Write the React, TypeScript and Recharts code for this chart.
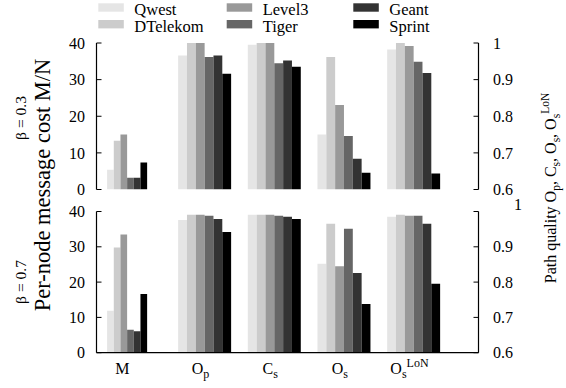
import React from "react";
import { BarChart, Bar, XAxis, YAxis } from "recharts";

const networks = ["Qwest", "DTelekom", "Level3", "Tiger", "Geant", "Sprint"];
const colors = ["#e5e5e5", "#cccccc", "#999999", "#666666", "#333333", "#000000"];

// categories on the x axis (M is on the left axis, the rest on the right axis)
const categories = ["M", "Op", "Cs", "Os", "OsLoN"];
const catPos = [-0.12, 1, 2, 3, 4];
const labelMain = ["M", "O", "C", "O", "O"];
const labelSub = ["", "p", "s", "s", "s"];
const labelSup = ["", "", "", "", "LoN"];

// beta = 0.3
const costB03 = [5.4, 13.3, 15.0, 3.2, 3.2, 7.4];
const qualityB03 = [
  [0.966, 1.0, 1.0, 0.962, 0.966, 0.916],
  [0.995, 1.0, 1.0, 0.945, 0.952, 0.935],
  [0.75, 0.962, 0.831, 0.746, 0.684, 0.646],
  [0.982, 1.0, 0.992, 0.949, 0.918, 0.644],
];

// beta = 0.7
const costB07 = [11.9, 29.8, 33.5, 6.5, 6.1, 16.6];
const qualityB07 = [
  [0.976, 0.991, 0.991, 0.988, 0.979, 0.942],
  [0.991, 0.991, 0.991, 0.988, 0.985, 0.979],
  [0.852, 0.965, 0.845, 0.951, 0.826, 0.738],
  [0.985, 0.991, 0.988, 0.988, 0.965, 0.795],
];

const costTicks = [0, 10, 20, 30, 40];
const qualityTicks = [0.6, 0.7, 0.8, 0.9, 1];
const xDomain = [-0.557, 4.926];

const FONT = "'Liberation Serif', 'Times New Roman', Times, serif";

function buildRows(cost: number[], quality: number[][]) {
  return categories.map((c, i) => {
    const row: any = { x: catPos[i], name: c };
    networks.forEach((n, j) => {
      row["m_" + n] = i === 0 ? cost[j] : null;
      row["q_" + n] = i === 0 ? null : quality[i - 1][j];
    });
    return row;
  });
}

function CatTick(props: any) {
  const { x, y, payload } = props;
  const i = catPos.indexOf(payload.value);
  if (i < 0) return null;
  return (
    <text x={x - 4.5} y={y + 21} textAnchor="middle" style={{ fontFamily: FONT }} fontSize={16} fill="#000">
      <tspan>{labelMain[i]}</tspan>
      {labelSub[i] && (
        <tspan dy={4} fontSize={12}>
          {labelSub[i]}
        </tspan>
      )}
      {labelSup[i] && (
        <tspan dy={-11} fontSize={12}>
          {labelSup[i]}
        </tspan>
      )}
    </text>
  );
}

function LeftTick(props: any) {
  const { x, y, payload } = props;
  return (
    <text x={x} y={y} dy="0.355em" textAnchor="end" style={{ fontFamily: FONT }} fontSize={16} fill="#000">
      {String(payload.value)}
    </text>
  );
}

function RightTick(props: any) {
  const { x, y, payload, lower } = props;
  // gnuplot put the "1" of the lower panel off to the side
  const shifted = lower && payload.value === 1;
  return (
    <text
      x={shifted ? x + 21 : x}
      y={shifted ? y - 7 : y}
      dy="0.355em"
      textAnchor="start"
      style={{ fontFamily: FONT }}
      fontSize={16}
      fill="#000"
    >
      {String(payload.value)}
    </text>
  );
}

function Panel({ rows, lower, height, top, bottom }: { rows: any[]; lower: boolean; height: number; top: number; bottom: number }) {
  return (
    <BarChart
      width={566}
      height={height}
      data={rows}
      margin={{ top, right: 0, bottom, left: 0 }}
      barGap={0}
    >
      <XAxis
        xAxisId="m"
        dataKey="x"
        type="number"
        domain={xDomain}
        allowDataOverflow
        ticks={catPos}
        height={lower ? 35.3 : 0}
        tick={lower ? <CatTick /> : false}
        tickLine={false}
        tickSize={0}
        tickMargin={0}
        interval={0}
        axisLine={{ stroke: "#000", strokeWidth: 1.2 }}
      />
      <XAxis xAxisId="q" dataKey="x" type="number" domain={xDomain} allowDataOverflow hide />
      <YAxis
        yAxisId="left"
        orientation="left"
        domain={[0, 40]}
        ticks={costTicks}
        allowDataOverflow
        interval={0}
        width={96.5}
        tickSize={-5}
        tickMargin={16.5}
        axisLine={{ stroke: "#000", strokeWidth: 1.2 }}
        tickLine={{ stroke: "#000" }}
        tick={<LeftTick />}
      />
      <YAxis
        yAxisId="right"
        orientation="right"
        domain={[0.6, 1]}
        ticks={qualityTicks}
        allowDataOverflow
        interval={0}
        width={87.5}
        tickSize={-5}
        tickMargin={19.5}
        axisLine={{ stroke: "#000", strokeWidth: 1.2 }}
        tickLine={{ stroke: "#000" }}
        tick={<RightTick lower={lower} />}
      />
      {networks.map((n, j) => (
        <Bar
          key={"m_" + n}
          xAxisId="m"
          yAxisId="left"
          dataKey={"m_" + n}
          fill={colors[j]}
          barSize={6.67}
          isAnimationActive={false}
        />
      ))}
      {networks.map((n, j) => (
        <Bar
          key={"q_" + n}
          xAxisId="q"
          yAxisId="right"
          dataKey={"q_" + n}
          fill={colors[j]}
          barSize={8.83}
          isAnimationActive={false}
        />
      ))}
    </BarChart>
  );
}

const legendCols = [98.3, 226.7, 353.3];
const legendRows = [3.3, 20];

export default function App() {
  const rowsTop = buildRows(costB03, qualityB03);
  const rowsBottom = buildRows(costB07, qualityB07);
  const t = { fontFamily: FONT };
  return (
    <div style={{ position: "absolute", left: 0, top: 0, width: 566, height: 388, background: "#fff" }}>
      <div style={{ position: "absolute", left: 0, top: 0 }}>
        <Panel rows={rowsTop} lower={false} height={215} top={43} bottom={25.5} />
      </div>
      <div style={{ position: "absolute", left: 0, top: 180 }}>
        <Panel rows={rowsBottom} lower={true} height={208} top={31.5} bottom={0} />
      </div>
      <svg
        width={566}
        height={388}
        style={{ position: "absolute", left: 0, top: 0, pointerEvents: "none" }}
      >
        {networks.map((n, j) => {
          const cx = legendCols[Math.floor(j / 2)];
          const cy = legendRows[j % 2];
          return (
            <g key={n}>
              <rect x={cx} y={cy} width={25.5} height={8.4} fill={colors[j]} />
              <text x={cx + 36} y={cy + 12} fontSize={16.5} fill="#000" style={t}>
                {n}
              </text>
            </g>
          );
        })}
        <text transform="translate(50,185) rotate(-90)" textAnchor="middle" fontSize={22.5} fill="#000" style={t}>
          Per-node message cost M/N
        </text>
        <text transform="translate(26,118) rotate(-90)" textAnchor="middle" fontSize={15.5} fill="#000" style={t}>
          β = 0.3
        </text>
        <text transform="translate(26,282) rotate(-90)" textAnchor="middle" fontSize={15.5} fill="#000" style={t}>
          β = 0.7
        </text>
        <text transform="translate(556,188) rotate(-90)" textAnchor="middle" fontSize={16} fill="#000" style={t}>
          <tspan>Path quality O</tspan>
          <tspan dy={4} fontSize={11.5}>p</tspan>
          <tspan dy={-4}>, C</tspan>
          <tspan dy={4} fontSize={11.5}>s</tspan>
          <tspan dy={-4}>, O</tspan>
          <tspan dy={4} fontSize={11.5}>s</tspan>
          <tspan dy={-4}>, O</tspan>
          <tspan dy={4} fontSize={11.5}>s</tspan>
          <tspan dy={-11.5} fontSize={11.5}>LoN</tspan>
        </text>
      </svg>
    </div>
  );
}
